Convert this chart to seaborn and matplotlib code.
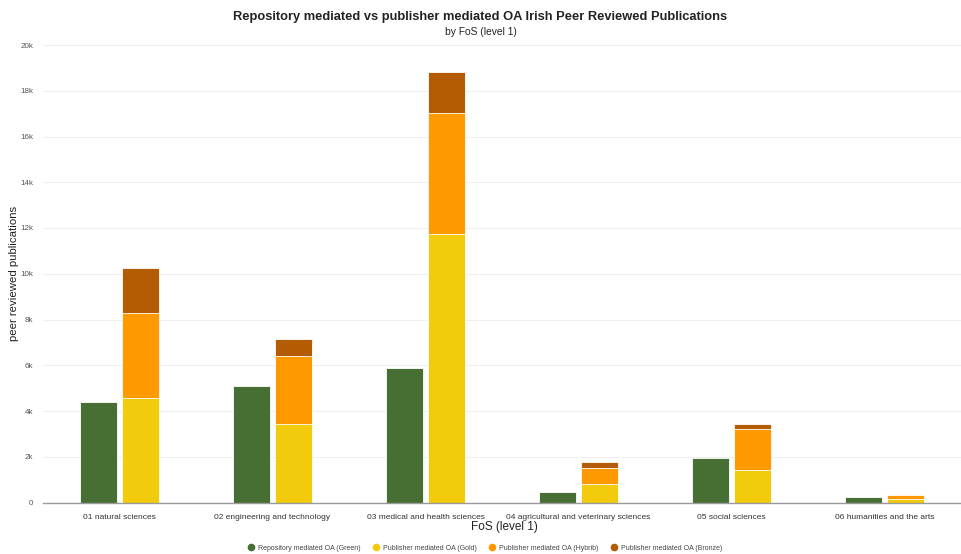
import matplotlib
matplotlib.use("Agg")
import matplotlib.pyplot as plt
from matplotlib.lines import Line2D
from matplotlib.ticker import FuncFormatter, MultipleLocator
import seaborn as sns
import pandas as pd
import numpy as np

categories = [
    "01 natural sciences",
    "02 engineering and technology",
    "03 medical and health sciences",
    "04 agricultural and veterinary sciences",
    "05 social sciences",
    "06 humanities and the arts",
]
green = [4400, 5100, 5900, 470, 1960, 230]
gold = [4570, 3440, 11720, 790, 1420, 150]
hybrid = [3730, 2950, 5290, 710, 1780, 170]
bronze = [1960, 740, 1790, 270, 220, 20]

series_names = [
    "Repository mediated OA (Green)",
    "Publisher mediated OA (Gold)",
    "Publisher mediated OA (Hybrib)",
    "Publisher mediated OA (Bronze)",
]
colors = ["#476f33", "#f2cc0c", "#ff9900", "#b35c04"]

REPO, PUB = "repository", "publisher"

sns.set_theme(style="white")
plt.rcParams["font.family"] = ["Liberation Sans", "DejaVu Sans"]

fig = plt.figure(figsize=(9.61, 5.54), dpi=100)
ax = fig.add_axes([43 / 961, 1 - 502.5 / 554, 918 / 961, 457.5 / 554])

# Cumulative stacks for the publisher bar, drawn from the top layer down
gold_arr = np.array(gold)
hyb_cum = gold_arr + np.array(hybrid)
bro_cum = hyb_cum + np.array(bronze)

layers = [
    (bro_cum, PUB, colors[3]),
    (hyb_cum, PUB, colors[2]),
    (gold_arr, PUB, colors[1]),
    (np.array(green), REPO, colors[0]),
]

for values, group, color in layers:
    df = pd.DataFrame({"category": categories, "value": values, "group": group})
    sns.barplot(
        data=df, x="category", y="value", hue="group",
        hue_order=[REPO, PUB], order=categories,
        palette={REPO: color, PUB: color},
        width=0.55, gap=0.13, dodge=True,
        edgecolor="#ffffff", linewidth=0.6, saturation=1,
        legend=False, ax=ax, zorder=3,
    )

ax.set_xlim(-0.5, len(categories) - 0.5)
ax.set_ylim(0, 20000)
ax.yaxis.set_major_locator(MultipleLocator(2000))
ax.yaxis.set_major_formatter(
    FuncFormatter(lambda v, _: "0" if v == 0 else f"{int(v / 1000)}k"))
ax.grid(axis="y", color="#efefef", linewidth=0.8, zorder=0)
ax.grid(axis="x", visible=False)
for side in ["top", "right", "left"]:
    ax.spines[side].set_visible(False)
ax.spines["bottom"].set_color("#9a9a9a")
ax.spines["bottom"].set_linewidth(1.0)
ax.spines["bottom"].set_zorder(4)

ax.tick_params(axis="y", length=0, pad=7, labelsize=5.8, labelcolor="#555555")
ax.tick_params(axis="x", length=0, pad=8, labelsize=6, labelcolor="#333333")

ax.set_xlabel("FoS (level 1)", fontsize=8.5, color="#222222")
ax.xaxis.set_label_coords((504 - 43) / 918, -(527 - 502.5) / 457.5)
ax.xaxis.label.set_va("center")
ax.set_ylabel("peer reviewed publications", fontsize=8.2, color="#222222")
ax.yaxis.set_label_coords(-(43 - 14) / 918, 0.5)
ax.yaxis.label.set_va("center")

fig.text(0.5, 1 - 17 / 554, "Repository mediated vs publisher mediated OA Irish Peer Reviewed Publications",
         ha="center", va="center", fontsize=9.3, fontweight="bold", color="#222222")
fig.text(0.5, 1 - 32 / 554, "by FoS (level 1)", ha="center", va="center",
         fontsize=7.4, color="#222222")

handles = [Line2D([0], [0], marker="o", linestyle="none", markersize=4.5,
                  markerfacecolor=c, markeredgecolor=c) for c in colors]
fig.legend(handles, series_names, loc="center", bbox_to_anchor=(485 / 961, 1 - 548 / 554),
           ncol=4, frameon=False, fontsize=5.0, handletextpad=0.5, handlelength=1.0,
           columnspacing=1.7, labelcolor="#444444")

fig.savefig("out.png", dpi=100)
